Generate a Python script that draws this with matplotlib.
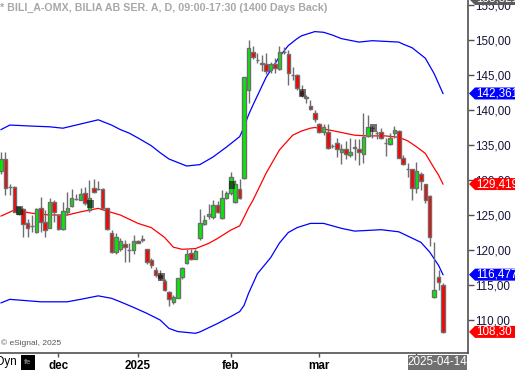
import matplotlib
matplotlib.use("Agg")
import matplotlib.pyplot as plt
import matplotlib.transforms as mtransforms
from matplotlib.patches import Polygon, Rectangle

plt.rcParams['font.family'] = ['Liberation Sans', 'DejaVu Sans']

# daily candles, oldest first
opens = [131.3, 133.0, 129.0, 129.05, 125.2, 125.9, 123.8, 123.5, 122.6, 125.95,
         124.05, 123.2, 126.8, 125.0, 122.95, 125.5, 126.3, 127.3, 127.2, 128.1,
         125.7, 128.8, 128.7, 128.65, 125.95, 122.4, 119.75, 120.2, 120.8, 120.05,
         120.0, 121.3, 121.5, 120.1, 118.6, 117.15, 116.4, 115.6, 113.95, 112.6,
         113.2, 116.1, 118.1, 119.6, 118.7, 121.65, 123.7, 124.9, 124.65, 126.45,
         124.6, 127.5, 128.1, 126.9, 128.65, 130.25, 142.85, 148.35, 147.1, 146.6,
         146.55, 145.7, 146.55, 145.8, 148.3, 148.0, 145.0, 145.0, 142.7, 141.75,
         140.55, 139.6, 138.0, 136.8, 136.9, 134.85, 135.3, 134.05, 134.4, 133.6,
         134.6, 134.4, 133.7, 136.3, 137.4, 136.65, 136.9, 135.3, 135.2, 136.7,
         137.0, 133.1, 131.5, 131.5, 128.8, 130.85, 129.4, 127.7, 113.3, 116.1,
         115.0]
highs = [134.0, 134.0, 129.5, 129.1, 126.2, 126.0, 124.5, 125.0, 126.0, 127.6,
         125.7, 127.4, 127.1, 125.2, 126.8, 128.3, 128.65, 128.0, 128.8, 128.95,
         130.0, 130.1, 129.8, 128.8, 126.0, 122.85, 122.4, 121.7, 121.4, 121.0,
         122.1, 121.4, 122.2, 120.2, 118.9, 117.6, 117.1, 115.9, 114.2, 113.6,
         116.0, 117.6, 120.1, 120.1, 120.1, 125.8, 125.0, 126.6, 127.1, 127.0,
         128.6, 128.4, 131.2, 130.0, 130.2, 130.5, 150.0, 149.1, 148.2, 147.8,
         148.1, 146.8, 147.4, 149.1, 149.0, 148.6, 146.2, 145.2, 143.6, 142.1,
         141.4, 140.0, 138.2, 138.0, 138.0, 135.2, 135.95, 135.2, 135.6, 135.95,
         135.8, 135.8, 139.5, 139.3, 137.7, 137.0, 137.4, 135.95, 136.7, 137.7,
         137.2, 133.6, 132.4, 131.6, 132.5, 131.2, 129.5, 127.8, 121.2, 117.1,
         115.3]
lows = [130.8, 127.9, 127.9, 125.4, 125.0, 121.9, 121.9, 122.6, 122.5, 122.6,
        121.9, 123.1, 124.05, 122.9, 122.9, 125.0, 126.2, 127.1, 127.1, 126.4,
        125.5, 128.1, 128.6, 125.9, 122.9, 119.6, 119.5, 119.8, 118.3, 118.3,
        119.5, 121.0, 121.2, 118.0, 117.5, 116.1, 115.7, 114.2, 112.05, 112.3,
        113.1, 115.9, 118.0, 118.6, 118.7, 121.4, 123.6, 124.4, 124.5, 125.3,
        124.5, 127.3, 127.9, 126.7, 127.3, 130.1, 141.05, 147.3, 146.7, 145.6,
        145.2, 145.3, 145.3, 145.7, 148.0, 143.6, 144.3, 142.9, 141.9, 141.0,
        140.0, 138.3, 136.7, 136.4, 134.4, 134.6, 133.3, 132.3, 133.0, 133.3,
        132.9, 132.1, 132.4, 136.2, 136.0, 135.8, 135.8, 133.4, 135.0, 136.0,
        133.1, 132.1, 130.5, 127.2, 128.1, 128.6, 126.7, 120.6, 113.2, 114.3,
        108.1]
closes = [133.0, 128.8, 129.05, 125.5, 126.1, 123.7, 123.2, 123.45, 125.8, 124.05,
          122.85, 126.9, 125.5, 122.95, 125.6, 126.0, 127.5, 127.35, 127.95, 126.7,
          127.5, 128.3, 128.75, 125.95, 122.95, 119.75, 121.9, 121.3, 120.4, 120.0,
          121.3, 121.0, 121.55, 118.25, 117.8, 116.5, 115.95, 114.3, 113.0, 113.3,
          115.95, 117.5, 119.4, 118.7, 119.85, 123.8, 124.3, 125.15, 126.45, 125.5,
          127.4, 128.2, 130.5, 129.4, 127.4, 144.75, 148.8, 147.6, 147.15, 146.65,
          145.5, 146.55, 146.05, 148.3, 148.35, 145.25, 145.05, 143.1, 142.2, 141.8,
          140.1, 138.65, 136.8, 137.5, 134.5, 134.9, 134.4, 134.4, 133.7, 134.05,
          134.65, 134.05, 136.2, 137.5, 137.45, 136.7, 135.95, 135.35, 135.95, 137.2,
          133.2, 132.3, 131.55, 128.8, 131.3, 129.9, 127.2, 121.8, 114.3, 115.4,
          108.3]

# bars that eSignal paints with a dark shade
shaded_bars = [4, 20, 36, 52, 68, 84]

# bollinger bands, read at bar positions
upper_idx = [0, 2, 7, 11, 14, 17, 20, 22, 25, 27, 29, 31, 34, 36, 38, 42, 45, 48,
             51, 54, 55, 56, 57, 60, 63, 65, 67, 68, 71, 73, 75, 77, 81, 84, 87,
             90, 91, 93, 96, 98, 100]
upper_val = [137.2, 137.85, 137.7, 137.6, 137.4, 137.85, 138.3, 138.6, 137.85, 137.2,
             136.7, 136.0, 134.9, 133.9, 133.0, 132.0, 132.2, 133.3, 134.7, 136.2,
             137.6, 139.3, 140.7, 144.7, 147.6, 149.2, 150.2, 150.6, 151.2, 151.1,
             150.7, 150.2, 149.7, 149.9, 149.8, 149.7, 149.4, 148.9, 147.4, 145.2,
             142.36]
mid_idx = [0, 3, 7, 11, 15, 18, 22, 24, 27, 31, 34, 37, 39, 41, 44, 47, 49, 52,
           54, 55, 56, 57, 60, 63, 66, 68, 70, 71, 75, 80, 83, 87, 90, 92, 94, 96,
           98, 99, 100]
mid_val = [124.85, 125.7, 125.25, 125.0, 125.0, 125.45, 125.95, 125.55, 125.0, 123.8,
           123.2, 121.8, 120.4, 120.1, 120.2, 120.95, 121.65, 122.85, 123.45, 124.7,
           126.0, 127.1, 131.0, 134.3, 136.4, 137.0, 137.4, 137.5, 137.05, 136.4,
           136.3, 136.3, 136.1, 135.6, 134.75, 133.8, 131.7, 130.7, 129.42]
lower_idx = [0, 2, 4, 9, 15, 18, 22, 25, 27, 30, 33, 36, 38, 40, 44, 45, 47, 49,
             52, 54, 55, 56, 58, 61, 63, 65, 67, 70, 73, 77, 80, 86, 90, 92, 95,
             97, 99, 100]
lower_val = [112.45, 112.95, 112.85, 112.6, 112.6, 112.95, 113.45, 113.1, 112.6, 111.8,
             110.95, 110.0, 108.8, 108.35, 108.1, 108.3, 108.9, 109.5, 110.5, 111.2,
             112.1, 113.8, 116.6, 118.9, 121.0, 122.5, 123.2, 123.8, 123.8, 123.1,
             122.7, 122.9, 122.6, 122.0, 121.1, 119.7, 117.8, 116.48]

month_pos = [13, 31, 52, 72, 94]
month_labels = ['dec', '2025', 'feb', 'mar', '']
price_ticks = [110, 115, 120, 125, 130, 135, 140, 145, 150, 155]

tag_values = [142.3617, 129.4197, 116.4778, 108.30]
tag_texts = ['142,3617', '129,4197', '116,4778', '108,30']
tag_colors = ['#0000ff', '#ff0000', '#0000ff', '#ff0000']

title = '* BILI_A-OMX, BILIA AB SER. A, D, 09:00-17:30 (1400 Days Back)'

W, H = 515, 370
fig = plt.figure(figsize=(W / 100, H / 100), dpi=100)
ax = fig.add_axes([0, 17 / H, 468 / W, 353 / H])
ax.set_xlim(-0.23, 105.66)
ax.set_ylim(105.286, 155.714)

gray = '#6e6e6e'
idx = list(range(len(closes)))
ax.vlines(idx, lows, highs, color=gray, lw=1.0, zorder=2)
bottoms = [min(o, c) for o, c in zip(opens, closes)]
heights = [max(abs(c - o), 0.04) for o, c in zip(opens, closes)]
colors = ['#00ee00' if c >= o else '#ff0000' for o, c in zip(opens, closes)]
ax.bar(idx, heights, width=0.8, bottom=bottoms, color=colors,
       edgecolor=gray, linewidth=1.0, zorder=3)

for i in shaded_bars:
    mid = (opens[i] + closes[i]) / 2
    ax.add_patch(Rectangle((i - 0.5, mid - 0.6), 1.5, 1.2, facecolor='black',
                           alpha=0.55, edgecolor='none', zorder=4))

ax.plot(upper_idx, upper_val, color='#0000ff', lw=0.9, zorder=1)
ax.plot(lower_idx, lower_val, color='#0000ff', lw=0.9, zorder=1)
ax.plot(mid_idx, mid_val, color='#ff0000', lw=0.9, zorder=1)

for s in ['left', 'top']:
    ax.spines[s].set_visible(False)
for s in ['right', 'bottom']:
    ax.spines[s].set_color('#505050')
    ax.spines[s].set_linewidth(1.2)

ax.yaxis.tick_right()
ax.set_yticks(price_ticks)
ax.set_yticklabels([f'{p:.2f}'.replace('.', ',') for p in price_ticks])
ax.tick_params(axis='y', length=4, width=1, colors='#505050', labelcolor='#15153a',
               labelsize=8.4, pad=1)
ax.set_xticks(month_pos)
ax.set_xticklabels(month_labels, fontweight='bold')
ax.tick_params(axis='x', length=3, width=1, colors='#505050', labelcolor='black',
               labelsize=8.4, pad=2)

# price tags on the right
tr = mtransforms.blended_transform_factory(fig.transFigure, ax.transData)
hh = 6 / 7.0
for v, t, c in zip(tag_values, tag_texts, tag_colors):
    pts = [(469 / W, v), (475 / W, v + hh), (520 / W, v + hh),
           (520 / W, v - hh), (475 / W, v - hh)]
    fig.add_artist(Polygon(pts, closed=True, facecolor=c, edgecolor='none',
                           transform=tr, clip_on=False))
    fig.text(476 / W, v, t, transform=tr, color='white', fontsize=8.4,
             va='center', ha='left')

# clamped label at the very top
top_v = 155.857
pts = [(469 / W, top_v), (475 / W, top_v + hh), (520 / W, top_v + hh),
       (520 / W, top_v - hh), (475 / W, top_v - hh)]
fig.add_artist(Polygon(pts, closed=True, facecolor='#5a5a5a', edgecolor='none',
                       transform=tr, clip_on=False))
fig.text(476 / W, top_v, '158,3213', transform=tr, color='white', fontsize=8.4,
         va='center', ha='left')

fig.text(0, 1 - 8 / H, title, color='#a8a8a8', fontsize=7.7, fontweight='bold',
         va='center', ha='left')
fig.text(1 / W, 1 - 343 / H, '\u00a9 eSignal, 2025', color='#555555', fontsize=6,
         va='center', ha='left')
fig.text(-4 / W, 1 - 362 / H, 'Dyn', color='black', fontsize=8.4, va='center', ha='left')
fig.add_artist(Rectangle((21 / W, 1 - 370 / H), 14 / W, 15 / H, facecolor='black',
                         edgecolor='none', transform=fig.transFigure))
fig.text(28 / W, 1 - 363 / H, 'fe', color='#777777', fontsize=6, fontweight='bold',
         va='center', ha='center')

fig.add_artist(Rectangle((408 / W, 0), 59 / W, 15 / H, facecolor='#707070',
                         edgecolor='none', transform=fig.transFigure))
fig.text(437.5 / W, 1 - 362 / H, '2025-04-14', color='white', fontsize=8.4,
         va='center', ha='center')

fig.savefig('out.png', dpi=100)
